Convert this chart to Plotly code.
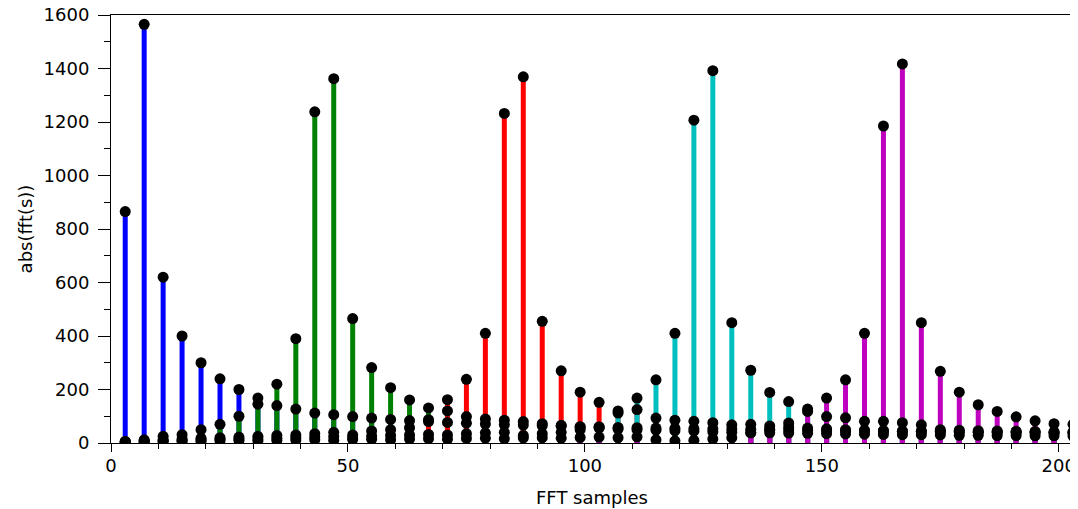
import plotly.graph_objects as go

# FFT sample positions (every 4th sample)
samples = [3, 7, 11, 15, 19, 23, 27, 31, 35, 39, 43, 47, 51, 55, 59, 63, 67, 71, 75, 79,
           83, 87, 91, 95, 99, 103, 107, 111, 115, 119, 123, 127, 131, 135, 139, 143, 147,
           151, 155, 159, 163, 167, 171, 175, 179, 183, 187, 191, 195, 199, 203]

blue_vals = [865, 1565, 620, 400, 300, 240, 200, 145, 140, 127, 112, 106, 99, 93, 88, 84, 80,
             77, 74, 71, 69, 67, 65, 63, 61, 60, 58, 57, 56, 55, 54, 53, 52, 51, 50, 49, 48,
             47, 46, 46, 45, 44, 44, 43, 43, 42, 42, 41, 41, 40, 40]

green_vals = [6, 12, 25, 31, 50, 70, 100, 168, 220, 390, 1238, 1362, 465, 282, 207, 161, 131,
              120, 99, 90, 85, 80, 72, 66, 60, 56, 52, 50, 48, 46, 44, 42, 40, 39, 38, 37, 36,
              35, 34, 33, 32, 31, 31, 30, 29, 29, 28, 28, 27, 27, 26]

red_vals = [5, 8, 12, 15, 18, 20, 22, 25, 28, 30, 35, 40, 30, 45, 50, 57, 87, 162, 238, 410,
            1232, 1369, 455, 270, 190, 152, 112, 125, 93, 85, 81, 76, 68, 70, 64, 60, 56, 53,
            50, 48, 46, 44, 43, 42, 41, 40, 39, 38, 37, 36, 36]

cyan_vals = [4, 6, 8, 10, 12, 14, 15, 16, 18, 20, 22, 24, 20, 26, 28, 30, 32, 30, 35, 38, 40,
             28, 35, 40, 50, 60, 120, 168, 236, 410, 1207, 1392, 450, 272, 189, 155, 118, 99,
             94, 81, 81, 76, 68, 50, 48, 46, 45, 44, 43, 42, 42]

magenta_vals = [3, 4, 5, 6, 7, 8, 9, 8, 10, 11, 12, 10, 13, 14, 12, 15, 16, 14, 17, 18, 16,
                19, 20, 18, 21, 22, 20, 23, 12, 8, 10, 15, 20, 38, 50, 75, 127, 168, 236, 410,
                1185, 1417, 450, 268, 190, 143, 118, 98, 83, 72, 70]

series = [
    ("s1", blue_vals, "#0000ff"),
    ("s2", green_vals, "#008000"),
    ("s3", red_vals, "#ff0000"),
    ("s4", cyan_vals, "#00bfbf"),
    ("s5", magenta_vals, "#bf00bf"),
]

fig = go.Figure()

# stems first
for name, vals, color in series:
    sx, sy = [], []
    for x, v in zip(samples, vals):
        sx += [x, x, None]
        sy += [0, v, None]
    fig.add_trace(go.Scatter(x=sx, y=sy, mode="lines", name=name,
                             line=dict(color=color, width=5), showlegend=False,
                             hoverinfo="skip"))

# markers on top
for name, vals, color in series:
    fig.add_trace(go.Scatter(x=samples, y=vals, mode="markers", name=name,
                             marker=dict(color="black", size=11), showlegend=False))

font = "DejaVu Sans"
fig.update_layout(
    width=1070, height=501,
    margin=dict(l=103, r=5, t=7, b=66),
    paper_bgcolor="white", plot_bgcolor="white",
    font=dict(family=font, size=18, color="black"),
    showlegend=False,
)
fig.add_annotation(text="FFT samples", xref="paper", yref="paper", x=0.5, y=0,
                   xanchor="center", yanchor="top", yshift=-42, showarrow=False,
                   font=dict(size=18, family=font, color="black"))
fig.update_xaxes(
    range=[0, 203], tickvals=[0, 50, 100, 150, 200],
    ticks="outside", ticklen=8, tickwidth=1, tickcolor="black",
    minor=dict(dtick=10, ticks="outside", ticklen=5, tickcolor="black"),
    showline=True, linecolor="black", linewidth=1, mirror=True,
    showgrid=False, zeroline=False, automargin=False,
    ticklabelstandoff=-2, ticklabeloverflow="allow",
)
fig.update_yaxes(
    range=[0, 1600], tickvals=[0, 200, 400, 600, 800, 1000, 1200, 1400, 1600],
    ticks="outside", ticklen=12, tickwidth=1, tickcolor="black",
    minor=dict(dtick=100, ticks="outside", ticklen=6, tickcolor="black"),
    showline=True, linecolor="black", linewidth=1, mirror=True,
    showgrid=False, zeroline=False, automargin=False,
    ticklabelstandoff=5, ticklabeloverflow="allow",
    title=dict(text="abs(fft(s))", standoff=6, font=dict(size=18)),
)

fig.write_html("out.html")
